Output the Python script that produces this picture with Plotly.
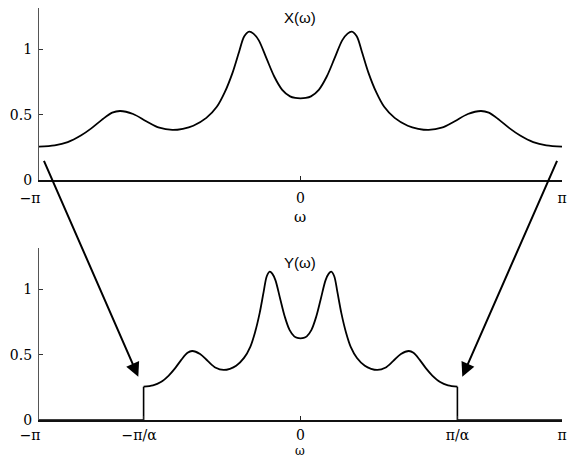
import numpy as np
import plotly.graph_objects as go

# Spectrum X(w), sampled on w/pi in [-1, 1]
w_over_pi = [
    -1.00, -0.94, -0.89, -0.84, -0.80, -0.76, -0.72, -0.69, -0.64, -0.59,
    -0.54, -0.49, -0.45, -0.41, -0.36, -0.32, -0.29, -0.26, -0.235, -0.215,
    -0.196, -0.18, -0.16, -0.13, -0.10, -0.07, -0.04, -0.02, 0.00,
    0.02, 0.04, 0.07, 0.10, 0.13, 0.16, 0.18, 0.196, 0.215, 0.235, 0.26,
    0.29, 0.32, 0.36, 0.41, 0.45, 0.49, 0.54, 0.59, 0.64, 0.69,
    0.72, 0.76, 0.80, 0.84, 0.89, 0.94, 1.00,
]
x_mag = [
    0.255, 0.265, 0.290, 0.340, 0.395, 0.460, 0.515, 0.528, 0.505, 0.450,
    0.400, 0.383, 0.392, 0.415, 0.475, 0.560, 0.670, 0.820, 0.980, 1.100,
    1.135, 1.120, 1.070, 0.930, 0.790, 0.690, 0.640, 0.628, 0.625,
    0.628, 0.640, 0.690, 0.790, 0.930, 1.070, 1.120, 1.135, 1.100, 0.980, 0.820,
    0.670, 0.560, 0.475, 0.415, 0.392, 0.383, 0.400, 0.450, 0.505, 0.528,
    0.515, 0.460, 0.395, 0.340, 0.290, 0.265, 0.255,
]
alpha = 5 / 3

NB = "\u00a0"
top_ticks = ["\u2212\u03c0" + NB * 4, "0", "\u03c0"]
bottom_ticks = ["\u2212\u03c0" + NB * 4, "\u2212\u03c0/\u03b1" + NB * 2, "0", "\u03c0/\u03b1", "\u03c0"]
y_ticks = ["0", "0.5", "1"]

w = np.pi * np.array(w_over_pi)
mag = np.array(x_mag)
# Y(w) = X(alpha*w) on |w| < pi/alpha, zero elsewhere
w_y = w / alpha
edge = np.pi / alpha

W, H = 580, 458
serif = "DejaVu Serif"
sans = "Liberation Sans"

curve = dict(color="black", width=1.8, shape="spline", smoothing=0.9)
fig = go.Figure()
fig.add_trace(go.Scatter(x=w, y=mag, mode="lines", line=curve, xaxis="x", yaxis="y", hoverinfo="skip"))
fig.add_trace(go.Scatter(x=w_y, y=mag, mode="lines", line=curve, xaxis="x2", yaxis="y2", hoverinfo="skip"))
# zero bands and the jumps at +-pi/alpha
for xs, ys in (([-np.pi, -edge, -edge], [0, 0, mag[0]]), ([edge, edge, np.pi], [mag[-1], 0, 0])):
    fig.add_trace(go.Scatter(x=xs, y=ys, mode="lines", line=dict(color="black", width=1.6),
                             xaxis="x2", yaxis="y2", hoverinfo="skip", cliponaxis=False))

xdom = [39 / W, 562 / W]
top_dom = [1 - 180 / H, 1 - 8 / H]
bot_dom = [1 - 420 / H, 1 - 248 / H]

def xax(vals, text, anchor, standoff):
    return dict(domain=xdom, range=[-np.pi, np.pi], tickvals=vals, ticktext=text, anchor=anchor,
                automargin=False, showline=True, linecolor="#111", linewidth=1.6, ticks="inside", ticklen=4,
                tickcolor="#222", tickwidth=1, showgrid=False, zeroline=False, ticklabelstandoff=standoff,
                tickfont=dict(family=serif, size=14, color="black"))

def yax(dom, anchor):
    return dict(domain=dom, range=[0, 1.316], tickvals=[0, 0.5, 1], ticktext=y_ticks, anchor=anchor,
                automargin=False, showline=True, linecolor="#555", linewidth=1.3, ticks="inside", ticklen=4,
                tickcolor="#333", tickwidth=1, showgrid=False, zeroline=False, ticklabelstandoff=3,
                tickfont=dict(family=serif, size=14, color="black"))

fig.update_layout(
    template="none",
    width=W, height=H, margin=dict(l=0, r=0, t=0, b=0, pad=0),
    font=dict(family=serif, size=14, color="black"),
    paper_bgcolor="white", plot_bgcolor="white", showlegend=False,
    xaxis=xax([-np.pi, 0, np.pi], top_ticks, "y", 4),
    yaxis=yax(top_dom, "x"),
    xaxis2=xax([-np.pi, -edge, 0, edge, np.pi], bottom_ticks, "y2", 1),
    yaxis2=yax(bot_dom, "x2"),
)

for txt, yy in (("X(\u03c9)", 18), ("Y(\u03c9)", 262)):
    fig.add_annotation(xref="paper", yref="paper", x=300 / W, y=1 - yy / H, text=txt, showarrow=False,
                       font=dict(family=sans, size=15, color="black"), xanchor="center", yanchor="middle")
for yy, fs in ((207, 15), (443, 12)):
    fig.add_annotation(xref="paper", yref="paper", x=300 / W, y=1 - yy / H, text="\u03c9", showarrow=False,
                       font=dict(family=serif, size=fs, color="black"), xanchor="center", yanchor="top",
                       borderpad=0)

# arrows mapping the band edges of X onto Y
for tip_x, dx in ((138.3, -95.0), (462.3, 95.4)):
    fig.add_annotation(xref="paper", yref="paper", x=tip_x / W, y=1 - 376.7 / H, ax=dx, ay=-217.4,
                       text="", showarrow=True, arrowhead=2, arrowsize=1.4, arrowwidth=2, arrowcolor="black")

fig.write_html("out.html")
